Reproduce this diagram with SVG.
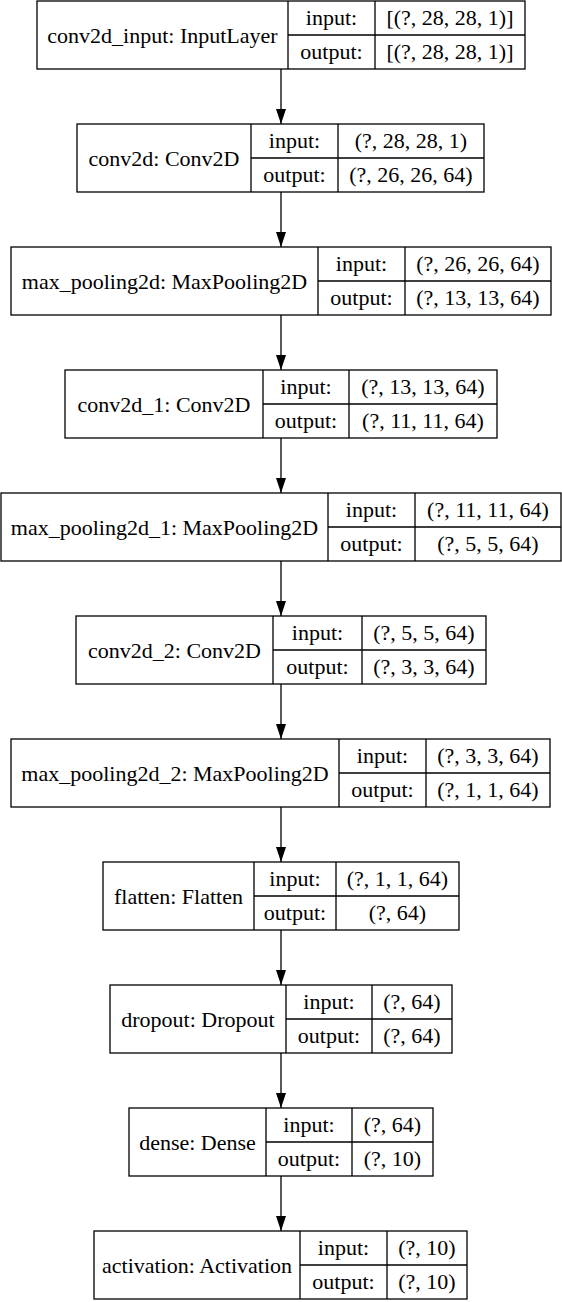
<svg xmlns="http://www.w3.org/2000/svg" width="562" height="1302" viewBox="0 0 562 1302">
<defs>
<style>
.box{fill:#fff;stroke:#000;stroke-width:1.3}
.ln{stroke:#000;stroke-width:1.3;fill:none}
text{font-family:"Liberation Serif","Times New Roman",serif;font-size:22px;fill:#000;text-anchor:middle}
</style>
</defs>
<g id="connectors">
<path d="M281,69 V124" class="ln"/><polygon points="276,109 286,109 281,124"/>
<path d="M281,192 V247" class="ln"/><polygon points="276,232 286,232 281,247"/>
<path d="M281,315 V370" class="ln"/><polygon points="276,355 286,355 281,370"/>
<path d="M281,438 V493" class="ln"/><polygon points="276,478 286,478 281,493"/>
<path d="M281,561 V616" class="ln"/><polygon points="276,601 286,601 281,616"/>
<path d="M281,684 V739" class="ln"/><polygon points="276,724 286,724 281,739"/>
<path d="M281,807 V862" class="ln"/><polygon points="276,847 286,847 281,862"/>
<path d="M281,930 V985" class="ln"/><polygon points="276,970 286,970 281,985"/>
<path d="M281,1053 V1108" class="ln"/><polygon points="276,1093 286,1093 281,1108"/>
<path d="M281,1176 V1231" class="ln"/><polygon points="276,1216 286,1216 281,1231"/>
</g>
<g id="conv2d_input">
<rect class="box" x="37" y="1" width="488" height="68"/>
<path class="ln" d="M288,1 V69 M375,1 V69 M288,35 H525"/>
<text x="162.5" y="42.5">conv2d_input: InputLayer</text>
<text x="331.5" y="25">input:</text><text x="331.5" y="59">output:</text>
<text x="450" y="25">[(?, 28, 28, 1)]</text><text x="450" y="59">[(?, 28, 28, 1)]</text>
</g>
<g id="conv2d">
<rect class="box" x="77" y="124" width="407" height="68"/>
<path class="ln" d="M251,124 V192 M338,124 V192 M251,158 H484"/>
<text x="164" y="165.5">conv2d: Conv2D</text>
<text x="294.5" y="148">input:</text><text x="294.5" y="182">output:</text>
<text x="411" y="148">(?, 28, 28, 1)</text><text x="411" y="182">(?, 26, 26, 64)</text>
</g>
<g id="max_pooling2d">
<rect class="box" x="11" y="247" width="540" height="68"/>
<path class="ln" d="M318,247 V315 M405,247 V315 M318,281 H551"/>
<text x="164.5" y="288.5">max_pooling2d: MaxPooling2D</text>
<text x="361.5" y="271">input:</text><text x="361.5" y="305">output:</text>
<text x="478" y="271">(?, 26, 26, 64)</text><text x="478" y="305">(?, 13, 13, 64)</text>
</g>
<g id="conv2d_1">
<rect class="box" x="65" y="370" width="432" height="68"/>
<path class="ln" d="M263,370 V438 M349,370 V438 M263,404 H497"/>
<text x="164" y="411.5">conv2d_1: Conv2D</text>
<text x="306" y="394">input:</text><text x="306" y="428">output:</text>
<text x="423" y="394">(?, 13, 13, 64)</text><text x="423" y="428">(?, 11, 11, 64)</text>
</g>
<g id="max_pooling2d_1">
<rect class="box" x="1" y="493" width="560" height="68"/>
<path class="ln" d="M328,493 V561 M415,493 V561 M328,527 H561"/>
<text x="164.5" y="534.5">max_pooling2d_1: MaxPooling2D</text>
<text x="371.5" y="517">input:</text><text x="371.5" y="551">output:</text>
<text x="488" y="517">(?, 11, 11, 64)</text><text x="488" y="551">(?, 5, 5, 64)</text>
</g>
<g id="conv2d_2">
<rect class="box" x="76" y="616" width="410" height="68"/>
<path class="ln" d="M273,616 V684 M362,616 V684 M273,650 H486"/>
<text x="174.5" y="657.5">conv2d_2: Conv2D</text>
<text x="317.5" y="640">input:</text><text x="317.5" y="674">output:</text>
<text x="424" y="640">(?, 5, 5, 64)</text><text x="424" y="674">(?, 3, 3, 64)</text>
</g>
<g id="max_pooling2d_2">
<rect class="box" x="11" y="739" width="539" height="68"/>
<path class="ln" d="M339,739 V807 M426,739 V807 M339,773 H550"/>
<text x="175" y="780.5">max_pooling2d_2: MaxPooling2D</text>
<text x="382.5" y="763">input:</text><text x="382.5" y="797">output:</text>
<text x="488" y="763">(?, 3, 3, 64)</text><text x="488" y="797">(?, 1, 1, 64)</text>
</g>
<g id="flatten">
<rect class="box" x="103" y="862" width="356" height="68"/>
<path class="ln" d="M254,862 V930 M336,862 V930 M254,896 H459"/>
<text x="178.5" y="903.5">flatten: Flatten</text>
<text x="295" y="886">input:</text><text x="295" y="920">output:</text>
<text x="397.5" y="886">(?, 1, 1, 64)</text><text x="397.5" y="920">(?, 64)</text>
</g>
<g id="dropout">
<rect class="box" x="110" y="985" width="342" height="68"/>
<path class="ln" d="M286,985 V1053 M372,985 V1053 M286,1019 H452"/>
<text x="198" y="1026.5">dropout: Dropout</text>
<text x="329" y="1009">input:</text><text x="329" y="1043">output:</text>
<text x="412" y="1009">(?, 64)</text><text x="412" y="1043">(?, 64)</text>
</g>
<g id="dense">
<rect class="box" x="129" y="1108" width="304" height="68"/>
<path class="ln" d="M266,1108 V1176 M352,1108 V1176 M266,1142 H433"/>
<text x="197.5" y="1149.5">dense: Dense</text>
<text x="309" y="1132">input:</text><text x="309" y="1166">output:</text>
<text x="392.5" y="1132">(?, 64)</text><text x="392.5" y="1166">(?, 10)</text>
</g>
<g id="activation">
<rect class="box" x="94" y="1231" width="373" height="68"/>
<path class="ln" d="M300,1231 V1299 M387,1231 V1299 M300,1265 H467"/>
<text x="197" y="1272.5">activation: Activation</text>
<text x="343.5" y="1255">input:</text><text x="343.5" y="1289">output:</text>
<text x="427" y="1255">(?, 10)</text><text x="427" y="1289">(?, 10)</text>
</g>
</svg>
